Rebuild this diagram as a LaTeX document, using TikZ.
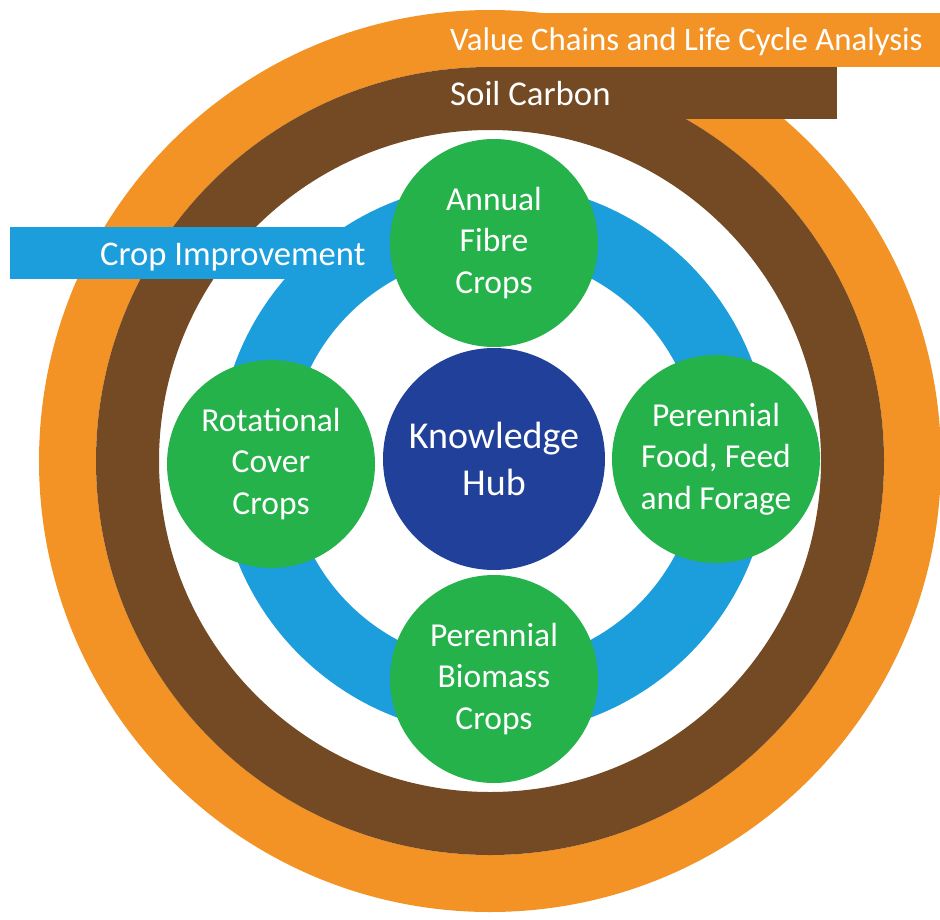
\documentclass[tikz,border=0pt]{standalone}
\usepackage{fontspec}
\setmainfont{Carlito}
\definecolor{ringorange}{HTML}{F39325}
\definecolor{soilbrown}{HTML}{734A24}
\definecolor{cropblue}{HTML}{1C9DDC}
\definecolor{cropgreen}{HTML}{25B24B}
\definecolor{hubblue}{HTML}{21409A}
\begin{document}
\begin{tikzpicture}[x=1pt,y=-1pt,
  bannertext/.style={text=white, inner sep=0pt, anchor=base west},
  cropcircle/.style={circle, fill=cropgreen, minimum size=208pt, inner sep=0pt,
    text=white, align=center, font=\fontsize{33.5pt}{41.7pt}\selectfont},
  hubcircle/.style={circle, fill=hubblue, minimum size=222pt, inner sep=0pt,
    text=white, align=center, font=\fontsize{38pt}{47pt}\selectfont}]
\useasboundingbox (0,0) rectangle (940,919);
\coordinate (rc) at (490,461);
\coordinate (hc) at (494,459);

% outer ring with its banner running off to the right
\fill[ringorange, even odd rule] (rc) circle[radius=451pt] circle[radius=394pt];
\fill[ringorange] (486,13) rectangle (940,67);
\node[bannertext, font=\fontsize{32.8pt}{40pt}\selectfont] (valuechains) at (450,50)
  {Value Chains and Life Cycle Analysis};

% soil carbon ring and banner
\fill[soilbrown, even odd rule] (rc) circle[radius=394pt] circle[radius=331pt];
\fill[soilbrown] (490,67) rectangle (837,119);
\node[bannertext, font=\fontsize{34.8pt}{40pt}\selectfont] (soilcarbon) at (450,105)
  {Soil Carbon};

% crop improvement ring and banner
\fill[cropblue, even odd rule] (hc) circle[radius=276pt] circle[radius=205pt];
\fill[cropblue] (10,227) rectangle (370,279);
\node[bannertext, font=\fontsize{34.6pt}{40pt}\selectfont] (cropimp) at (100,265)
  {Crop Improvement};

% hub and crop groups
\node[hubcircle] (hub) at (hc) {Knowledge\\Hub};
\node[cropcircle] (annual) at (494,243) {Annual\\Fibre\\Crops};
\node[cropcircle] (rotational) at (271,464) {Rotational\\Cover\\Crops};
\node[cropcircle] (perfood) at (716,459) {Perennial\\Food, Feed\\and Forage};
\node[cropcircle] (biomass) at (494,679) {Perennial\\Biomass\\Crops};
\end{tikzpicture}
\end{document}
